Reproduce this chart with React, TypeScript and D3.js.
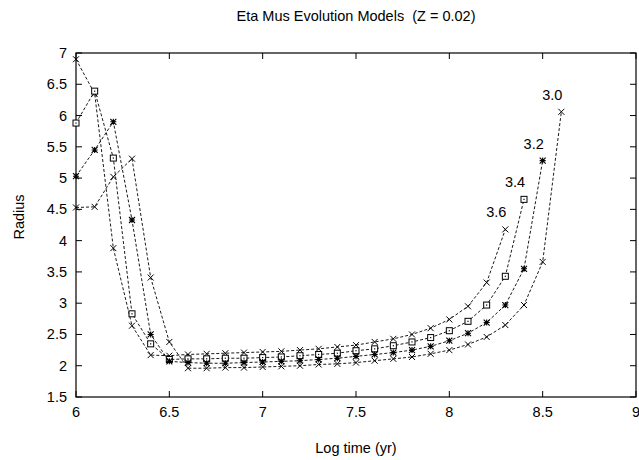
import React from "react";
import * as d3 from "d3";

const W = 639;
const H = 460;

const titleText = "Eta Mus Evolution Models  (Z = 0.02)";
const xLabel = "Log time (yr)";
const yLabel = "Radius";

const xTicks = [6, 6.5, 7, 7.5, 8, 8.5, 9];
const yTicks = [1.5, 2, 2.5, 3, 3.5, 4, 4.5, 5, 5.5, 6, 6.5, 7];

// Log time (yr) samples for each model
const times36 = [6.0, 6.1, 6.2, 6.3, 6.4, 6.5, 6.6, 6.7, 6.8, 6.9, 7.0, 7.1, 7.2, 7.3, 7.4, 7.5, 7.6, 7.7, 7.8, 7.9, 8.0, 8.1, 8.2, 8.3];
const times34 = [6.0, 6.1, 6.2, 6.3, 6.4, 6.5, 6.6, 6.7, 6.8, 6.9, 7.0, 7.1, 7.2, 7.3, 7.4, 7.5, 7.6, 7.7, 7.8, 7.9, 8.0, 8.1, 8.2, 8.3, 8.4];
const times32 = [6.0, 6.1, 6.2, 6.3, 6.4, 6.5, 6.6, 6.7, 6.8, 6.9, 7.0, 7.1, 7.2, 7.3, 7.4, 7.5, 7.6, 7.7, 7.8, 7.9, 8.0, 8.1, 8.2, 8.3, 8.4, 8.5];
const times30 = [6.0, 6.1, 6.2, 6.3, 6.4, 6.5, 6.6, 6.7, 6.8, 6.9, 7.0, 7.1, 7.2, 7.3, 7.4, 7.5, 7.6, 7.7, 7.8, 7.9, 8.0, 8.1, 8.2, 8.3, 8.4, 8.5, 8.6];

// Radius values
const radius36 = [6.9, 6.35, 3.88, 2.64, 2.17, 2.16, 2.18, 2.19, 2.2, 2.21, 2.22, 2.23, 2.25, 2.27, 2.3, 2.33, 2.38, 2.43, 2.5, 2.6, 2.74, 2.95, 3.33, 4.18];
const radius34 = [5.88, 6.39, 5.32, 2.83, 2.35, 2.1, 2.11, 2.11, 2.12, 2.12, 2.13, 2.14, 2.16, 2.18, 2.2, 2.24, 2.27, 2.32, 2.38, 2.45, 2.56, 2.71, 2.97, 3.43, 4.66];
const radius32 = [5.03, 5.45, 5.9, 4.33, 2.5, 2.07, 2.05, 2.04, 2.04, 2.05, 2.06, 2.07, 2.08, 2.1, 2.12, 2.15, 2.18, 2.21, 2.25, 2.31, 2.4, 2.52, 2.69, 2.97, 3.55, 5.28];
const radius30 = [4.53, 4.54, 5.02, 5.31, 3.41, 2.38, 1.96, 1.96, 1.97, 1.97, 1.98, 1.99, 2.0, 2.02, 2.03, 2.05, 2.08, 2.11, 2.14, 2.19, 2.25, 2.34, 2.46, 2.65, 2.97, 3.66, 6.06];

const seriesNames = ["3.6", "3.4", "3.2", "3.0"];
const seriesTimes = [times36, times34, times32, times30];
const seriesRadius = [radius36, radius34, radius32, radius30];
const seriesMarkers = ["cross", "box", "star", "cross"];

const margin = { left: 76, right: 3, top: 53, bottom: 63 };
const font = "'Liberation Sans', Arial, Helvetica, sans-serif";

function Marker({ type, x, y }: { type: string; x: number; y: number }) {
  const s = 3;
  if (type === "cross") {
    return (
      <path
        d={`M${x - s},${y - s}L${x + s},${y + s}M${x - s},${y + s}L${x + s},${y - s}`}
        stroke="#000"
        strokeWidth={1}
        fill="none"
      />
    );
  }
  if (type === "box") {
    return (
      <g>
        <rect x={x - s} y={y - s} width={2 * s} height={2 * s} stroke="#000" strokeWidth={1} fill="#fff" />
        <rect x={x - 0.6} y={y - 0.6} width={1.2} height={1.2} fill="#000" />
      </g>
    );
  }
  // star: + and x overlay
  return (
    <path
      d={`M${x - s},${y - s}L${x + s},${y + s}M${x - s},${y + s}L${x + s},${y - s}M${x - s},${y}L${x + s},${y}M${x},${y - s}L${x},${y + s}`}
      stroke="#000"
      strokeWidth={1.1}
      fill="none"
    />
  );
}

export default function App() {
  const x = d3.scaleLinear().domain([6, 9]).range([margin.left, W - margin.right]);
  const y = d3.scaleLinear().domain([1.5, 7]).range([H - margin.bottom, margin.top]);
  const line = d3
    .line<[number, number]>()
    .x((d) => x(d[0]))
    .y((d) => y(d[1]));

  const x0 = x(6);
  const x1 = x(9);
  const y0 = y(1.5);
  const y1 = y(7);
  const tl = 6;

  return (
    <svg
      width={W}
      height={H}
      style={{ position: "absolute", left: 0, top: 0, background: "#fff" }}
      fontFamily={font}
    >
      <rect x={0} y={0} width={W} height={H} fill="#fff" />
      <text
        x={(x0 + x1) / 2}
        y={21}
        textAnchor="middle"
        fontSize={14.5}
        fill="#000"
        style={{ whiteSpace: "pre" }}
        xmlSpace="preserve"
      >
        {titleText}
      </text>

      {/* ticks */}
      {xTicks.map((t) => (
        <g key={"xt" + t}>
          <line x1={x(t)} x2={x(t)} y1={y0} y2={y0 - tl} stroke="#000" strokeWidth={1} />
          <line x1={x(t)} x2={x(t)} y1={y1} y2={y1 + tl} stroke="#000" strokeWidth={1} />
          <text x={x(t)} y={417} textAnchor="middle" fontSize={14.5} fill="#000">
            {String(t)}
          </text>
        </g>
      ))}
      {yTicks.map((t) => (
        <g key={"yt" + t}>
          <line x1={x0} x2={x0 + tl} y1={y(t)} y2={y(t)} stroke="#000" strokeWidth={1} />
          <line x1={x1} x2={x1 - tl} y1={y(t)} y2={y(t)} stroke="#000" strokeWidth={1} />
          <text x={x0 - 9} y={y(t) + 5} textAnchor="end" fontSize={14.5} fill="#000">
            {String(t)}
          </text>
        </g>
      ))}

      <rect x={x0} y={y1} width={x1 - x0} height={y0 - y1} fill="none" stroke="#000" strokeWidth={1.2} />

      {/* series */}
      {seriesNames.map((name, i) => {
        const pts: [number, number][] = seriesTimes[i].map((t, j) => [t, seriesRadius[i][j]]);
        const last = pts[pts.length - 1];
        return (
          <g key={name}>
            <path d={line(pts) || ""} fill="none" stroke="#000" strokeWidth={0.9} strokeDasharray="3,2" />
            {pts.map((p, j) => (
              <Marker key={j} type={seriesMarkers[i]} x={x(p[0])} y={y(p[1])} />
            ))}
            <text x={x(last[0]) - 9} y={y(last[1]) - 12} textAnchor="middle" fontSize={14.5} fill="#000">
              {name}
            </text>
          </g>
        );
      })}

      <text x={(x0 + x1) / 2} y={453} textAnchor="middle" fontSize={14.5} fill="#000">
        {xLabel}
      </text>
      <text
        transform={`translate(${24},${(y0 + y1) / 2 - 8}) rotate(-90)`}
        textAnchor="middle"
        fontSize={14.5}
        fill="#000"
      >
        {yLabel}
      </text>
    </svg>
  );
}
